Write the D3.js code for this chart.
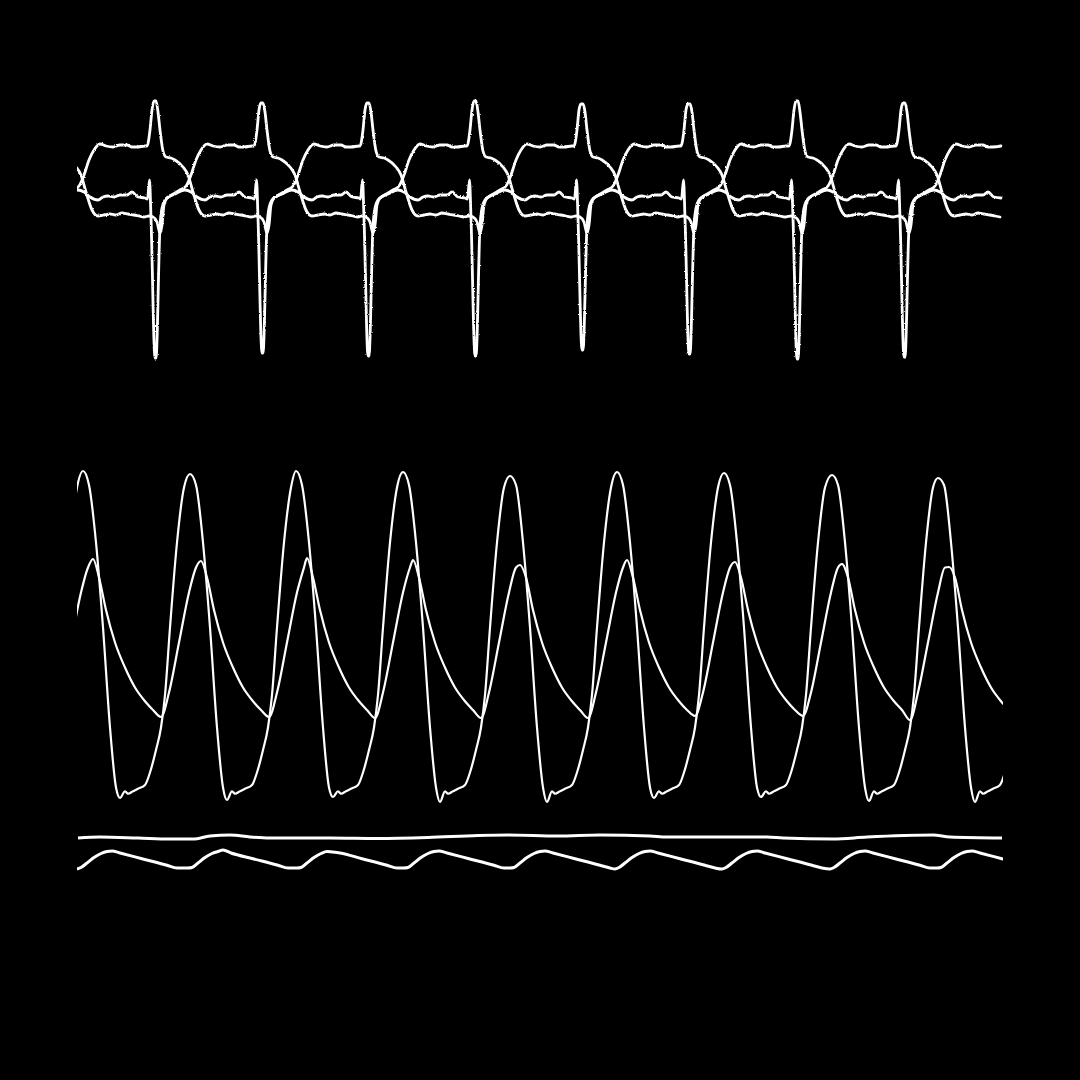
<!DOCTYPE html>
<html>
<head>
<meta charset="utf-8">
<script src="https://cdn.jsdelivr.net/npm/d3@7"></script>
<style>
  html, body { margin: 0; padding: 0; background: #000; }
  svg { display: block; }
</style>
</head>
<body>
<svg id="chart" width="1080" height="1080"></svg>
<script>
// ---------------- DATA ----------------
// time axis in seconds, ECG in mV, pressure in mmHg, bottom channels in arbitrary units

// ECG: R-wave times of each beat (first one lies just before the visible window)
const ecgBeatTimes = [-0.30, 0.77, 1.84, 2.90, 3.97, 5.04, 6.11, 7.19, 8.26];
const ecgRPeak     = [1.28, 1.29, 1.27, 1.27, 1.29, 1.26, 1.26, 1.29, 1.27];
const ecgSTrough   = [-1.26, -1.28, -1.23, -1.26, -1.26, -1.20, -1.24, -1.29, -1.27];
// which morphology each of the three ECG traces shows at each beat
const ecgLeadRoles = [
  ["A", "B", "C", "A", "B", "C", "A", "B", "C"],
  ["B", "C", "A", "B", "C", "A", "B", "C", "A"],
  ["C", "A", "B", "C", "A", "B", "C", "A", "B"]
];
// beat morphologies: [seconds after the R time, mV]
const ecgShapeA = [[-0.08, 0.84], [-0.05, 1.00], [-0.03, 1.20], [-0.01, "PEAK"], [0.01, "PEAK"],
  [0.03, 1.18], [0.05, 1.00], [0.08, 0.79], [0.11, 0.73], [0.16, 0.72], [0.20, 0.70], [0.28, 0.63],
  [0.33, 0.55], [0.38, 0.38], [0.44, 0.20], [0.50, 0.14], [0.56, 0.15], [0.62, 0.16], [0.68, 0.15],
  [0.74, 0.17], [0.80, 0.16], [0.86, 0.15], [0.91, 0.14], [0.96, 0.13]];
const ecgShapeB = [[-0.06, 0.14], [-0.02, 0.13], [0.02, 0.08], [0.05, -0.03], [0.07, 0.05],
  [0.09, 0.25], [0.12, 0.32], [0.20, 0.36], [0.30, 0.40], [0.36, 0.38], [0.42, 0.33], [0.50, 0.30],
  [0.55, 0.33], [0.60, 0.34], [0.66, 0.33], [0.72, 0.35], [0.79, 0.35], [0.84, 0.38], [0.90, 0.33],
  [0.97, 0.32]];
const ecgShapeC = [[-0.075, 0.31], [-0.055, 0.50], [-0.04, 0.12], [0.00, "TROUGH"], [0.01, "TROUGH"],
  [0.05, 0.04], [0.07, 0.22], [0.10, 0.30], [0.15, 0.34], [0.25, 0.40], [0.31, 0.44], [0.36, 0.55],
  [0.41, 0.70], [0.46, 0.80], [0.52, 0.86], [0.58, 0.84], [0.65, 0.83], [0.72, 0.85], [0.79, 0.85],
  [0.84, 0.83], [0.89, 0.83], [0.97, 0.84]];

// Pressure, trace 1 (large swing)
const pressure1PeakTimes = [-1.02, 0.05, 1.12, 2.18, 3.25, 4.32, 5.39, 6.46, 7.54, 8.60];
const pressure1Peaks     = [139.0, 139.6, 138.4, 139.6, 139.2, 137.6, 139.2, 138.8, 138.0, 136.8];
const pressure1Troughs   = [8.8, 8.8, 8.0, 9.2, 7.2, 7.2, 8.8, 9.2, 7.6, 7.2];
const pressure1Shape = [[0.00, "PEAK"], [0.06, 134], [0.13, 111], [0.20, 77], [0.27, 37], [0.33, 13],
  [0.37, "TROUGH"], [0.42, 11.5], [0.45, 10.5], [0.50, 11.5], [0.55, 12.5], [0.62, 14], [0.67, 19],
  [0.73, 28], [0.78, 37], [0.82, 50], [0.87, 77], [0.94, 111], [1.01, 133]];

// Pressure, trace 2 (smaller, slow decay)
const pressure2PeakTimes = [-0.93, 0.15, 1.23, 2.29, 3.35, 4.42, 5.49, 6.57, 7.64, 8.71];
const pressure2Peaks     = [104.0, 104.4, 103.6, 104.8, 104.0, 102.0, 104.0, 103.2, 102.4, 101.2];
const pressure2Troughs   = [41.0, 41.2, 41.2, 40.8, 40.8, 40.8, 41.6, 41.6, 40.0, 40.0];
const pressure2Shape = [[0.00, "PEAK"], [0.06, 97], [0.13, 84], [0.22, 71], [0.32, 61], [0.42, 53],
  [0.52, 47.5], [0.60, 44], [0.68, "TROUGH"], [0.76, 51], [0.86, 71], [0.96, 91], [1.03, 101]];

// Bottom channel 1: nearly flat line
const flatChannel = [[0.00, 8.4], [0.22, 8.6], [0.60, 8.4], [0.92, 8.2], [1.15, 8.2], [1.32, 8.8],
  [1.52, 9.0], [1.72, 8.6], [1.92, 8.4], [2.52, 8.4], [3.00, 8.3], [3.50, 8.5], [4.00, 8.9],
  [4.30, 9.0], [4.80, 8.8], [5.22, 9.0], [5.72, 8.8], [5.89, 8.6], [6.89, 8.6], [7.05, 8.4],
  [7.55, 8.2], [7.89, 8.6], [8.55, 9.0], [8.72, 8.6], [9.24, 8.4]];

// Bottom channel 2: sawtooth
const sawTroughTimes = [-0.01, 1.10, 2.19, 3.26, 4.32, 5.37, 6.44, 7.52, 8.59];
const sawPeaks   = [5.8, 6.0, 5.6, 5.8, 5.8, 5.8, 5.8, 5.8, 5.8];
const sawTroughs = [2.2, 2.4, 2.4, 2.4, 2.4, 2.2, 2.2, 2.2, 2.4];
const sawShape = [[0.00, "TROUGH"], [0.04, 2.5], [0.10, 3.4], [0.17, 4.5], [0.24, 5.3], [0.30, 5.7],
  [0.35, "PEAK"], [0.43, 5.4], [0.65, 4.25], [0.90, 2.95], [1.00, 2.4]];

// ---------------- BUILD SERIES ----------------
function place(times, shape, peaks, troughs) {
  const pts = [];
  times.forEach((t0, i) => {
    shape.forEach(([dt, v]) => {
      const val = v === "PEAK" ? peaks[i] : v === "TROUGH" ? troughs[i] : v;
      pts.push([t0 + dt, val]);
    });
  });
  return pts.sort((a, b) => a[0] - b[0]);
}
const shapes = { A: ecgShapeA, B: ecgShapeB, C: ecgShapeC };
const ecgTraces = ecgLeadRoles.map(roles => {
  const pts = [];
  roles.forEach((role, i) => {
    const r = ecgBeatTimes[i];
    shapes[role].forEach(([dt, v]) => {
      const val = v === "PEAK" ? ecgRPeak[i] : v === "TROUGH" ? ecgSTrough[i] : v;
      pts.push([r + dt, val]);
    });
  });
  return pts.sort((a, b) => a[0] - b[0]);
});
const p1 = place(pressure1PeakTimes, pressure1Shape, pressure1Peaks, pressure1Troughs);
const p2 = place(pressure2PeakTimes, pressure2Shape, pressure2Peaks, pressure2Troughs);
const saw = place(sawTroughTimes, sawShape, sawPeaks, sawTroughs);

// ---------------- DRAW ----------------
const svg = d3.select("#chart");
svg.append("rect").attr("width", 1080).attr("height", 1080).attr("fill", "#000");

const defs = svg.append("defs");
defs.append("clipPath").attr("id", "plotClip")
  .append("rect").attr("x", 77).attr("y", 0).attr("width", 926).attr("height", 1080);
const f = defs.append("filter").attr("id", "rough")
  .attr("filterUnits", "userSpaceOnUse")
  .attr("x", 0).attr("y", 0).attr("width", 1080).attr("height", 1080);
f.append("feTurbulence").attr("type", "fractalNoise").attr("baseFrequency", 0.9)
  .attr("numOctaves", 1).attr("seed", 4).attr("result", "noise");
f.append("feDisplacementMap").attr("in", "SourceGraphic").attr("in2", "noise")
  .attr("scale", 2.4).attr("xChannelSelector", "R").attr("yChannelSelector", "G");

const x = d3.scaleLinear().domain([0, 9.24]).range([78, 1002]);
const yEcg = d3.scaleLinear().domain([-1.3, 1.3]).range([360, 100]);
const yP = d3.scaleLinear().domain([0, 140]).range([820, 470]);
const yB = d3.scaleLinear().domain([0, 10]).range([880, 830]);

const root = svg.append("g").attr("clip-path", "url(#plotClip)");

function lineFor(yScale) {
  return d3.line().x(d => x(d[0])).y(d => yScale(d[1])).curve(d3.curveMonotoneX);
}

const ecgG = root.append("g").attr("filter", "url(#rough)");
ecgG.selectAll("path").data(ecgTraces).join("path")
  .attr("d", lineFor(yEcg))
  .attr("fill", "none").attr("stroke", "#fff").attr("stroke-width", 2.8)
  .attr("stroke-linejoin", "round").attr("stroke-linecap", "round");

root.append("g").selectAll("path").data([p1, p2]).join("path")
  .attr("d", lineFor(yP))
  .attr("fill", "none").attr("stroke", "#fff").attr("stroke-width", 2.2)
  .attr("stroke-linejoin", "round");

root.append("g").selectAll("path").data([flatChannel, saw]).join("path")
  .attr("d", lineFor(yB))
  .attr("fill", "none").attr("stroke", "#fff").attr("stroke-width", 3)
  .attr("stroke-linejoin", "round");
</script>
</body>
</html>
